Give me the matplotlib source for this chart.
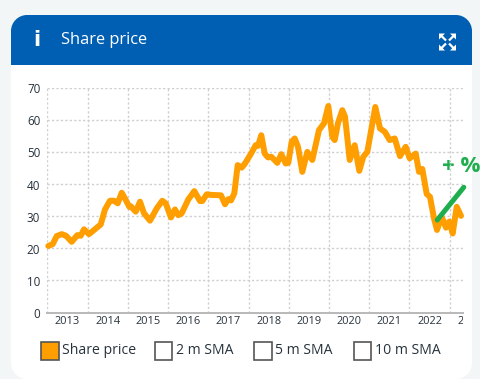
import matplotlib
matplotlib.use("Agg")
import matplotlib.pyplot as plt
from matplotlib.patches import Rectangle, PathPatch
from matplotlib.path import Path
from matplotlib.transforms import Bbox

W, H = 488, 379
FONT = "Open Sans"

price_px_x = [48.3,52.7,56.7,61.7,66,71.7,77.3,80.7,84,89,93.3,100.7,105,110,114,117.7,121.7,125,129.3,130.7,135.7,140,144,150,
 156.7,162.3,165.7,171,175,178.3,181.7,188.3,194.3,200,202.3,206.7,211.7,221,225,228.3,231,234.3,237.7,241.7,245,250.7,255.7,258,
 261.3,264.7,268,271.3,277.3,281.3,285.7,288.3,291.7,294.7,298,302.3,307.3,312.3,319,324,328.3,332.3,334.7,338,342.3,345,349.7,
 354.7,359.3,363.3,367.3,375.3,380,384.7,389.7,394.7,400,405.7,409.7,415.7,419,422.3,426.7,430,434,437,441.7,446,449.3,452.7,456.7,461]
price_values = [20.7,21.3,23.8,24.4,23.9,22,24.1,23.9,25.9,24.4,25.5,27.4,32.1,34.8,34.8,34,37.3,35.5,32.9,33.1,31.4,34.5,30.9,28.6,
 32.4,34.8,34,29.6,32.1,30.3,30.9,35.2,37.8,34.7,34.7,36.8,36.6,36.5,33.7,35.3,34.9,37.1,45.9,45.1,46.4,49.3,52.1,51.9,
 55.2,49.5,48.3,48.5,46.6,49.3,46.4,46.6,53.2,54.2,51.6,43.8,50,47.5,56.8,58.9,64.3,54.7,53.7,59,63,61,47.5,
 52.1,44.1,48.5,50,64,57.3,56.3,53.7,54.2,48.7,51.6,48,49.5,43.8,44.7,36.9,36,29.3,25.7,29.8,26.4,28.3,24.6,32.9,30.1]
# x positions as decimal years (gridline spacing 40.24 px per year from 47.3 px at 2013)
price_years = [2013 + (p - 47.3) / 40.24 for p in price_px_x]

trend_years = [2022.69, 2023.35]
trend_values = [28.8, 39.0]
year_labels = ["2013","2014","2015","2016","2017","2018","2019","2020","2021","2022","2023"]
y_ticks = [0,10,20,30,40,50,60,70]
legend_labels = ["Share price", "2 m SMA", "5 m SMA", "10 m SMA"]

ORANGE = "#ff9e00"
GREEN = "#1fae4e"
BLUE = "#005fb3"
BG = "#f3f6f6"
TXT = "#26323c"

fig = plt.figure(figsize=(W/100, H/100), dpi=100, facecolor="white")

deco = fig.add_axes([0,0,1,1], zorder=0)
deco.set_xlim(0, W); deco.set_ylim(H, 0); deco.axis("off")
deco.add_patch(Rectangle((0,0), 480, H, fc=BG, ec="none"))

def rounded(x0, y0, x1, y1, rt, rb):
    k = 0.55
    v = [(x0+rt,y0),(x1-rt,y0),(x1-rt+k*rt,y0),(x1,y0+rt-k*rt),(x1,y0+rt),(x1,y1-rb),(x1,y1-rb+k*rb),(x1-rb+k*rb,y1),(x1-rb,y1),
         (x0+rb,y1),(x0+rb-k*rb,y1),(x0,y1-rb+k*rb),(x0,y1-rb),(x0,y0+rt),(x0,y0+rt-k*rt),(x0+rt-k*rt,y0),(x0+rt,y0)]
    c = [Path.MOVETO,Path.LINETO,Path.CURVE4,Path.CURVE4,Path.CURVE4,Path.LINETO,Path.CURVE4,Path.CURVE4,Path.CURVE4,
         Path.LINETO,Path.CURVE4,Path.CURVE4,Path.CURVE4,Path.LINETO,Path.CURVE4,Path.CURVE4,Path.CURVE4]
    return Path(v, c)

deco.add_patch(PathPatch(rounded(11,15,472,379,16,16), fc="white", ec="none"))
deco.add_patch(PathPatch(rounded(11,15,472,65,16,0), fc=BLUE, ec="none"))
deco.text(36.5, 40, "i", color="white", fontsize=15, fontweight="bold", family="DejaVu Sans", ha="center", va="center")
deco.text(61, 40, "Share price", color="white", fontsize=11.8, family=FONT, ha="left", va="center")

# expand icon
cx, cy = 447.5, 42
for sx, sy in [(-1,-1),(1,-1),(-1,1),(1,1)]:
    deco.plot([cx+sx*1.5, cx+sx*7], [cy+sy*1.5, cy+sy*7], color="white", lw=1.6, solid_capstyle="butt")
    deco.fill([cx+sx*8.5, cx+sx*2.5, cx+sx*8.5], [cy+sy*8.5, cy+sy*8.5, cy+sy*2.5], color="white", ec="none")

# chart
L, R, T, B = 47.3, 463, 87.7, 312.5
ax = fig.add_axes([L/W, 1-B/H, (R-L)/W, (B-T)/H], zorder=1)
ax.patch.set_alpha(0)
ax.set_xlim(2013, 2013 + (R-L)/40.24)
ax.set_ylim(0, 70)
for s in ax.spines.values():
    s.set_visible(False)
ax.set_xticks([2013+i for i in range(11)])
ax.set_xticklabels([])
ax.set_yticks(y_ticks)
ax.set_yticklabels([])
ax.tick_params(length=0)
ax.grid(True, color="#cfcfcf", lw=1.0, ls=(0,(1.6,1.6)))
ax.set_axisbelow(True)
ax.axhline(0, color="#b9b9b9", lw=1.4, clip_on=False, zorder=1)
ax.plot(price_years, price_values, color=ORANGE, lw=4.3, solid_joinstyle="round", solid_capstyle="round", zorder=3, clip_on=False)
ax.plot(trend_years, trend_values, color=GREEN, lw=3.6, solid_capstyle="round", zorder=4, clip_on=False)

for v in y_ticks:
    ax.annotate(str(v), (0, v), xycoords=("axes fraction","data"), xytext=(-7,-2), textcoords="offset pixels",
                ha="right", va="center", fontsize=8.4, color=TXT, family=FONT, annotation_clip=False)
clip = Bbox([[L, 0], [R, H]])
for i, lab in enumerate(year_labels):
    t = ax.annotate(lab, (2013.5+i, 0), xycoords=("data","axes fraction"), xytext=(0,-9), textcoords="offset pixels",
                ha="center", va="center", fontsize=7.9, color=TXT, family=FONT, annotation_clip=False)
    t.set_clip_on(True); t.set_clip_box(clip)

deco.text(442, 166, "+ %", color=GREEN, fontsize=16, fontweight="bold", family=FONT, ha="left", va="center", zorder=5)

# legend
boxes = [41.3, 154.7, 254.3, 353.7]
for i, (bx, lab) in enumerate(zip(boxes, legend_labels)):
    deco.add_patch(Rectangle((bx, 342), 17.5, 17.5, fc=ORANGE if i == 0 else "white", ec="#555555", lw=1.2))
    deco.text(bx+21, 351, lab, color=TXT, fontsize=10.1, family=FONT, ha="left", va="center")

fig.savefig("out.png", dpi=100)
